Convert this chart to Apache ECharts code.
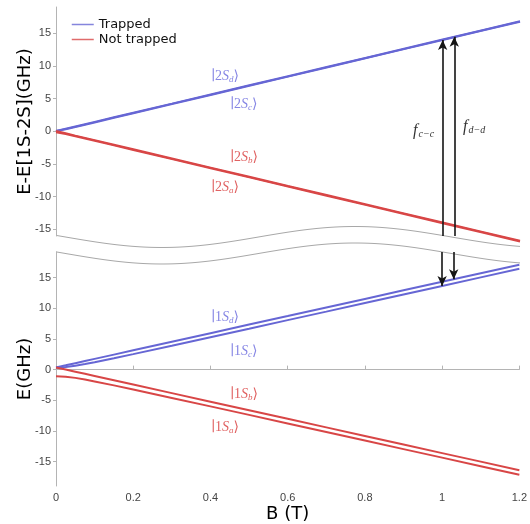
<!DOCTYPE html>
<html>
<head>
<meta charset="utf-8">
<script src="https://cdn.jsdelivr.net/npm/echarts@6/dist/echarts.min.js"></script>
<style>html,body{margin:0;padding:0;background:#fff}#c{width:530px;height:524px}</style>
</head>
<body>
<div id="c"></div>
<script>
// Magnetic field (T)
const B = [0, 0.025, 0.05, 0.075, 0.1, 0.15, 0.2, 0.3, 0.4, 0.5, 0.6, 0.7, 0.8, 0.9, 1.0, 1.1, 1.2];
// 2S states, E - E[1S-2S] (GHz)
const S2d = [0.04, 0.39, 0.74, 1.09, 1.44, 2.14, 2.84, 4.23, 5.63, 7.03, 8.43, 9.83, 11.22, 12.62, 14.02, 15.42, 16.82];
const S2c = [0.05, 0.32, 0.66, 1.01, 1.36, 2.06, 2.76, 4.16, 5.56, 6.96, 8.36, 9.76, 11.16, 12.56, 13.96, 15.36, 16.76];
const S2b = [0.04, -0.31, -0.66, -1.00, -1.35, -2.05, -2.75, -4.15, -5.55, -6.95, -8.35, -9.74, -11.14, -12.54, -13.94, -15.33, -16.73];
const S2a = [-0.13, -0.41, -0.75, -1.10, -1.45, -2.15, -2.85, -4.25, -5.64, -7.04, -8.44, -9.84, -11.24, -12.64, -14.04, -15.44, -16.84];
// 1S states, E (GHz)
const S1d = [0.36, 0.70, 1.05, 1.40, 1.75, 2.45, 3.15, 4.55, 5.95, 7.35, 8.74, 10.14, 11.54, 12.94, 14.34, 15.73, 17.13];
const S1c = [0.36, 0.44, 0.64, 0.91, 1.21, 1.86, 2.53, 3.90, 5.29, 6.68, 8.08, 9.47, 10.87, 12.26, 13.66, 15.06, 16.46];
const S1b = [0.36, 0.01, -0.34, -0.69, -1.04, -1.74, -2.44, -3.84, -5.24, -6.64, -8.03, -9.43, -10.83, -12.23, -13.63, -15.02, -16.42];
const S1a = [-1.07, -1.15, -1.35, -1.62, -1.93, -2.57, -3.24, -4.62, -6.00, -7.39, -8.79, -10.18, -11.58, -12.98, -14.37, -15.77, -17.17];
// transition arrows
const arrowB = [1.0, 1.03];
const arrowTop2S = [13.96, 14.44];
const arrowBottom1S = [13.66, 14.75];
const arrowNames = ['c\u2212c', 'd\u2212d'];
// ticks
const yTicks = [-15, -10, -5, 0, 5, 10, 15];
const topRange = [-16, 19];
const bottomRange = [-19, 19.2];

const BLUE = '#6666d4', RED = '#d84646';
const BLUE_L = '#8686e4', RED_L = '#e06262';
const AX = '#b4b4b4';

function mk(name, vals, color, g) {
  return {
    type: 'line', name: name, xAxisIndex: g, yAxisIndex: g,
    data: B.map((b, i) => [b, vals[i]]),
    symbol: 'none', clip: false, silent: true, animation: false,
    lineStyle: { color: color, width: 2 }, itemStyle: { color: color }
  };
}

const chart = echarts.init(document.getElementById('c'), null, { renderer: 'canvas' });

function yAx(g, range, name) {
  return {
    type: 'value', gridIndex: g, min: range[0], max: range[1],
    name: name, nameLocation: 'middle', nameGap: 22, nameRotate: 90, nameMoveOverlap: false,
    nameTextStyle: { fontFamily: 'DejaVu Sans', fontSize: 18, color: '#000' },
    axisLine: { show: true, lineStyle: { color: AX, width: 1 } },
    axisTick: { show: true, inside: false, length: 3, customValues: yTicks, lineStyle: { color: AX } },
    axisLabel: { customValues: yTicks, margin: 5, fontFamily: 'Liberation Sans', fontSize: 11, color: '#444' },
    splitLine: { show: false }
  };
}

const stateLabels = [
  { n: '2', sub: 'd', x: 211, y: 76, c: BLUE_L },
  { n: '2', sub: 'c', x: 230, y: 104, c: BLUE_L },
  { n: '2', sub: 'b', x: 230, y: 157, c: RED_L },
  { n: '2', sub: 'a', x: 211, y: 187, c: RED_L },
  { n: '1', sub: 'd', x: 211, y: 317, c: BLUE_L },
  { n: '1', sub: 'c', x: 230, y: 351, c: BLUE_L },
  { n: '1', sub: 'b', x: 230, y: 394, c: RED_L },
  { n: '1', sub: 'a', x: 211, y: 427, c: RED_L }
];

function wave(off) {
  const pts = [];
  for (let px = 56; px <= 520; px += 4) {
    pts.push([px, off - 10.5 * Math.cos(2 * Math.PI * (px - 355) / 386)]);
  }
  return pts;
}

const SERIF = 'Liberation Serif, DejaVu Serif';
const graphics = [];
graphics.push({ type: 'polyline', shape: { points: wave(237) }, style: { stroke: '#a8a8a8', lineWidth: 1, fill: null }, silent: true });
graphics.push({ type: 'polyline', shape: { points: wave(253.5) }, style: { stroke: '#a8a8a8', lineWidth: 1, fill: null }, silent: true });
stateLabels.forEach(s => {
  graphics.push({
    type: 'text', x: s.x, y: s.y, silent: true,
    style: {
      text: '{n|\u2223' + s.n + '}{i|S}{s|' + s.sub + '}{n|\u27E9}',
      verticalAlign: 'middle', align: 'left', fill: s.c,
      rich: {
        n: { fontFamily: SERIF, fontSize: 14, fill: s.c, lineHeight: 16 },
        i: { fontFamily: SERIF, fontStyle: 'italic', fontSize: 14, fill: s.c, lineHeight: 16 },
        s: { fontFamily: SERIF, fontStyle: 'italic', fontSize: 9, fill: s.c, lineHeight: 9, verticalAlign: 'bottom' }
      }
    }
  });
});
const fPos = [[413, 131], [463, 127]];
arrowNames.forEach((nm, i) => {
  graphics.push({ type: 'text', x: fPos[i][0], y: fPos[i][1], silent: true,
    style: { text: 'f', fontFamily: 'Liberation Serif', fontStyle: 'italic', fontSize: 16, fill: '#333', verticalAlign: 'middle' } });
  graphics.push({ type: 'text', x: fPos[i][0] + 5.5, y: fPos[i][1] + 3, silent: true,
    style: { text: nm, fontFamily: 'Liberation Serif', fontStyle: 'italic', fontSize: 10, fill: '#333', verticalAlign: 'middle' } });
});

const arrowStyle = { type: 'solid', color: '#151515', width: 1.6 };
const option = {
  animation: false,
  backgroundColor: '#fff',
  grid: [
    { left: 56, right: 10, top: 7, height: 229 },
    { left: 56, right: 10, top: 252, height: 237 }
  ],
  legend: {
    data: ['Trapped', 'Not trapped'], orient: 'vertical', left: 66, top: 13,
    itemWidth: 22, itemHeight: 12, itemGap: 2, itemStyle: { opacity: 0 },
    lineStyle: { width: 1.5, opacity: 0.8 },
    textStyle: { fontFamily: 'DejaVu Sans', fontSize: 13, color: '#111' },
    selectedMode: false
  },
  xAxis: [
    { type: 'value', gridIndex: 0, min: 0, max: 1.2, interval: 0.2, show: false },
    { type: 'value', gridIndex: 1, min: 0, max: 1.2, interval: 0.2,
      name: 'B (T)', nameLocation: 'middle', nameGap: 19, nameMoveOverlap: false,
      nameTextStyle: { fontFamily: 'DejaVu Sans', fontSize: 18, color: '#000', verticalAlign: 'top' },
      axisLine: { show: true, lineStyle: { color: AX, width: 1 } },
      axisTick: { show: true, inside: true, length: 4, lineStyle: { color: AX } },
      axisLabel: { margin: 6, fontFamily: 'Liberation Sans', fontSize: 11, color: '#444' },
      splitLine: { show: false } }
  ],
  yAxis: [ yAx(0, topRange, 'E-E[1S-2S](GHz)'), yAx(1, bottomRange, 'E(GHz)') ],
  series: [
    mk('Trapped', S2d, BLUE, 0),
    mk('Trapped', S2c, BLUE, 0),
    mk('Trapped', S1d, BLUE, 1),
    mk('Trapped', S1c, BLUE, 1),
    mk('Not trapped', S2b, RED, 0),
    mk('Not trapped', S2a, RED, 0),
    mk('Not trapped', S1b, RED, 1),
    mk('Not trapped', S1a, RED, 1),
    { type: 'line', name: 'arrowsTop', xAxisIndex: 0, yAxisIndex: 0, data: [], silent: true,
      markLine: { silent: true, symbolSize: [7, 10], lineStyle: arrowStyle, label: { show: false }, emphasis: { disabled: true },
        data: arrowB.map((b, i) => [ { coord: [b, arrowTop2S[i]], symbol: 'arrow' }, { coord: [b, topRange[0]], symbol: 'none' } ]) } },
    { type: 'line', name: 'arrowsBottom', xAxisIndex: 1, yAxisIndex: 1, data: [], silent: true,
      markLine: { silent: true, symbolSize: [7, 10], lineStyle: arrowStyle, label: { show: false }, emphasis: { disabled: true },
        data: arrowB.map((b, i) => [ { coord: [b, bottomRange[1]], symbol: 'none' }, { coord: [b, arrowBottom1S[i]], symbol: 'arrow' } ]) } }
  ],
  graphic: graphics
};
chart.setOption(option);
</script>
</body>
</html>
